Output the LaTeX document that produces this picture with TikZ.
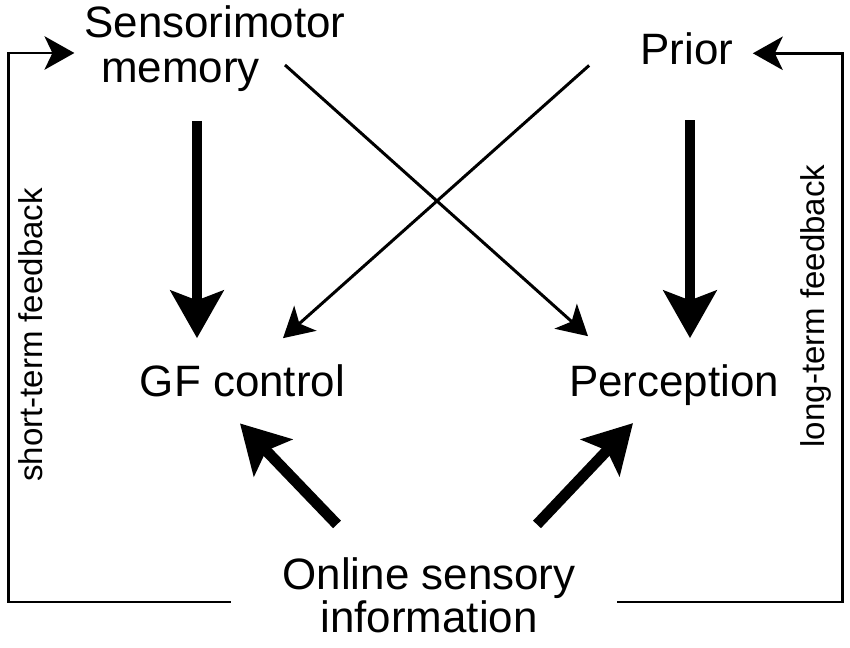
\documentclass[tikz,border=0pt]{standalone}
\usepackage{fontspec}
\setmainfont{Liberation Sans}
\usetikzlibrary{arrows.meta}

\begin{document}
\begin{tikzpicture}[x=0.02cm,y=-0.02cm]
    \tikzstyle{txt}=[inner sep=0pt, outer sep=0pt, font=\fontsize{25}{25}\selectfont, align=center]
    \tikzstyle{fbtxt}=[inner sep=0pt, outer sep=0pt, font=\fontsize{18.8}{18.8}\selectfont, rotate=90, anchor=base]
    \tikzstyle{bigarr}=[line width=6.2pt, -{Stealth[length=27pt,width=30pt,inset=5.5pt]}]
    \tikzstyle{thinarr}=[line width=1.7pt, -{Stealth[length=17pt,width=19pt,inset=4.5pt]}]

    \useasboundingbox (0,0) rectangle (850,648);

    \node[txt, align=left, font=\fontsize{25}{26}\selectfont]
                            (smem)   at (215,48.5)  {Sensorimotor\\\hspace*{9.6pt}memory};
    \node[txt, anchor=base] (prior)  at (687,65)    {Prior};
    \node[txt, anchor=base] (gf)     at (242.5,397) {GF control};
    \node[txt, anchor=base] (perc)   at (674,397)   {Perception};
    \node[txt, font=\fontsize{25}{24.4}\selectfont]
                            (online) at (429,595)   {Online sensory\\information};
    \node[fbtxt]            (stfb)   at (43,335)    {short-term feedback};
    \node[fbtxt]            (ltfb)   at (824,306)   {long-term feedback};

    % priors and memory
    \draw[bigarr] ([shift={(-18,29)}]smem.south) -- ([shift={(-45.5,-27)}]gf.north);
    \draw[bigarr] ([shift={(3,55)}]prior.south) -- ([shift={(16,-27)}]perc.north);
    \draw[thinarr] ([shift={(70,16.5)}]smem.center) -- ([shift={(-86,-29)}]perc.north);
    \draw[thinarr] ([shift={(-51.5,0)}]prior.south west) -- ([shift={(40.5,-27)}]gf.north);

    % online information
    \draw[bigarr] ([shift={(-92,-33)}]online.north) -- ([shift={(-2.5,26)}]gf.south);
    \draw[bigarr] ([shift={(108,-33)}]online.north) -- ([shift={(-41,17)}]perc.south);

    % feedback loops
    \draw[thinarr] ([shift={(-52,7)}]online.west) -- ++(-222,0) |- ([shift={(-10,4.5)}]smem.west);
    \draw[thinarr] ([shift={(42,7)}]online.east) -- ++(225,0) |- ([shift={(19.5,4)}]prior.east);
\end{tikzpicture}
\end{document}
